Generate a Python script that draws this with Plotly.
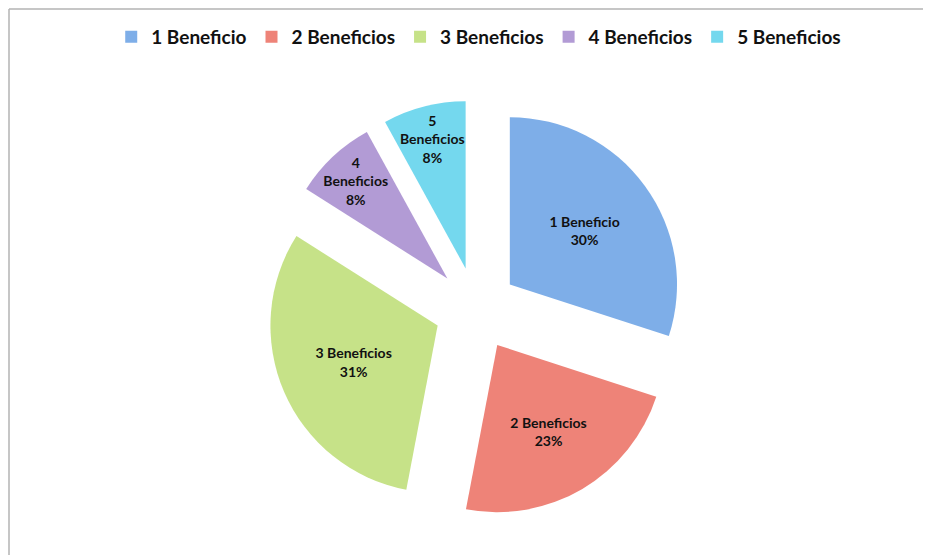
import plotly.graph_objects as go

categories = ["1 Beneficio", "2 Beneficios", "3 Beneficios", "4 Beneficios", "5 Beneficios"]
values = [30, 23, 31, 8, 8]
slice_text = ["1 Beneficio<br>30%", "2 Beneficios<br>23%", "3 Beneficios<br>31%",
              "4<br>Beneficios<br>8%", "5<br>Beneficios<br>8%"]
colors = ["#7eaee8", "#ee8378", "#c6e288", "#b29bd5", "#74d8ee"]

# page has an 8px body margin, so the figure starts at (8, 8)
W, H = 923, 547
cx, cy, half = 468, 301, 209

fig = go.Figure(go.Pie(
    labels=categories,
    values=values,
    text=slice_text,
    texttemplate="%{text}",
    textposition="inside",
    insidetextorientation="horizontal",
    sort=False,
    direction="clockwise",
    rotation=0,
    pull=0.25,
    marker=dict(colors=colors, line=dict(width=0)),
    textfont=dict(family="Lato", size=14, color="#111111", weight="bold"),
    hoverinfo="label+percent",
    domain=dict(x=[(cx - half) / W, (cx + half) / W], y=[1 - (cy + half) / H, 1 - (cy - half) / H]),
))

fig.update_layout(
    width=W, height=H,
    margin=dict(l=0, r=0, t=0, b=0),
    paper_bgcolor="white",
    plot_bgcolor="white",
    font=dict(family="Lato", color="#111111"),
    uniformtext=dict(minsize=14, mode="show"),
    legend=dict(
        orientation="h",
        x=0.51, xanchor="center",
        y=1 - 29 / H, yanchor="middle",
        font=dict(family="Lato", size=19, color="#111111", weight="bold"),
        traceorder="normal",
    ),
    shapes=[
        dict(type="line", xref="paper", yref="paper", x0=1 / W, x1=1, y0=1 - 1 / H, y1=1 - 1 / H,
             line=dict(color="#b3b3b3", width=1.5)),
        dict(type="line", xref="paper", yref="paper", x0=1 / W, x1=1 / W, y0=0, y1=1 - 1 / H,
             line=dict(color="#b3b3b3", width=1.5)),
    ],
)

fig.write_html("out.html")
